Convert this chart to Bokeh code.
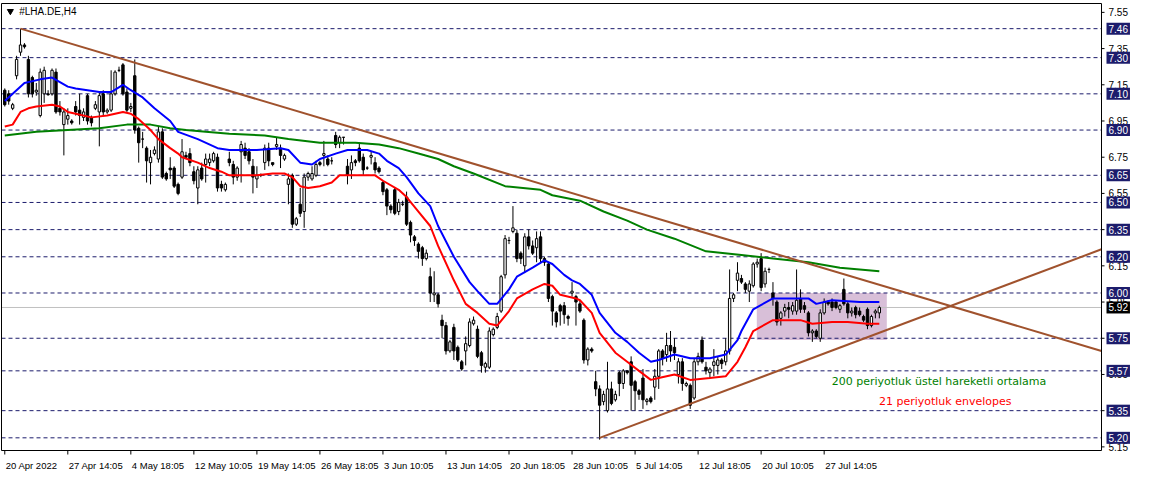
from bokeh.plotting import figure
from bokeh.models import Range1d, Label, ColumnDataSource
from bokeh.embed import file_html
from bokeh.resources import INLINE

# ------------------------------------------------------------------ data
symbol = "#LHA.DE,H4"

open_ = [7.12, 7.10, 7.02, 7.20, 7.33, 7.37, 7.29, 7.19, 7.11, 6.98,
         7.10, 7.10, 7.10, 7.22, 7.02, 6.93, 6.96, 6.95, 7.03, 7.01,
         6.97, 7.09, 6.97, 7.02, 7.00, 7.10, 7.00, 7.01, 7.10, 7.23,
         7.26, 7.11, 7.02, 7.20, 6.91, 6.85, 6.80, 6.72, 6.77, 6.74,
         6.89, 6.66, 6.69, 6.69, 6.60, 6.64, 6.76, 6.77, 6.67, 6.58,
         6.69, 6.71, 6.72, 6.73, 6.75, 6.60, 6.57, 6.74, 6.71, 6.64,
         6.78, 6.80, 6.78, 6.70, 6.63, 6.65, 6.72, 6.80, 6.72, 6.81,
         6.80, 6.74, 6.60, 6.65, 6.38, 6.49, 6.45, 6.64, 6.63, 6.65,
         6.72, 6.76, 6.74, 6.73, 6.87, 6.83, 6.86, 6.70, 6.68, 6.73,
         6.80, 6.75, 6.69, 6.75, 6.72, 6.69, 6.61, 6.57, 6.48, 6.57,
         6.45, 6.49, 6.53, 6.39, 6.31, 6.27, 6.25, 6.19, 6.09, 5.99,
         5.99, 5.85, 5.82, 5.68, 5.81, 5.70, 5.62, 5.68, 5.71, 5.83,
         5.80, 5.67, 5.59, 5.59, 5.77, 5.81, 5.90, 6.10, 6.29, 6.34,
         6.33, 6.22, 6.15, 6.31, 6.26, 6.25, 6.31, 6.19, 6.16, 5.98,
         5.89, 5.93, 5.93, 5.87, 6.00, 5.98, 5.94, 5.85, 5.63, 5.69,
         5.51, 5.47, 5.40, 5.35, 5.47, 5.41, 5.56, 5.50, 5.57, 5.62,
         5.51, 5.46, 5.53, 5.40, 5.42, 5.48, 5.54, 5.68, 5.66, 5.71,
         5.70, 5.55, 5.62, 5.49, 5.49, 5.42, 5.62, 5.74, 5.59, 5.56,
         5.60, 5.60, 5.63, 5.62, 5.68, 5.97, 6.07, 6.08, 6.05, 6.01,
         6.04, 6.16, 6.19, 6.05, 6.13, 6.00, 5.95, 5.86, 5.90, 5.92,
         5.90, 5.90, 5.97, 5.93, 5.89, 5.78, 5.79, 5.75, 5.89, 5.95,
         5.95, 5.95, 5.91, 6.02, 5.94, 5.89, 5.92, 5.90, 5.87, 5.91,
         5.82, 5.89, 5.89]
high = [7.13, 7.12, 7.05, 7.31, 7.46, 7.38, 7.31, 7.20, 7.16, 7.24,
        7.25, 7.12, 7.24, 7.24, 7.06, 7.02, 7.02, 6.96, 7.06, 7.10,
        7.02, 7.10, 6.98, 7.06, 7.11, 7.12, 7.02, 7.23, 7.23, 7.25,
        7.27, 7.13, 7.05, 7.29, 6.92, 6.89, 6.81, 6.79, 6.81, 6.92,
        6.91, 6.67, 6.75, 6.70, 6.61, 6.85, 6.78, 6.80, 6.70, 6.70,
        6.72, 6.77, 6.77, 6.78, 6.77, 6.62, 6.61, 6.78, 6.73, 6.70,
        6.84, 6.83, 6.80, 6.74, 6.70, 6.66, 6.82, 6.83, 6.72, 6.86,
        6.82, 6.77, 6.66, 6.66, 6.42, 6.58, 6.66, 6.67, 6.70, 6.73,
        6.73, 6.84, 6.76, 6.75, 6.89, 6.87, 6.86, 6.74, 6.76, 6.74,
        6.83, 6.77, 6.70, 6.78, 6.75, 6.70, 6.62, 6.58, 6.49, 6.58,
        6.52, 6.51, 6.56, 6.40, 6.32, 6.28, 6.26, 6.24, 6.14, 6.12,
        6.00, 5.88, 5.84, 5.74, 5.83, 5.71, 5.63, 5.76, 5.86, 5.87,
        5.82, 5.68, 5.62, 5.81, 5.81, 5.89, 6.10, 6.32, 6.31, 6.48,
        6.35, 6.23, 6.33, 6.35, 6.29, 6.34, 6.34, 6.20, 6.17, 5.99,
        5.90, 5.94, 5.95, 5.88, 6.06, 5.99, 5.96, 5.86, 5.70, 5.70,
        5.57, 5.49, 5.46, 5.62, 5.51, 5.46, 5.57, 5.58, 5.57, 5.65,
        5.52, 5.47, 5.58, 5.42, 5.43, 5.58, 5.69, 5.69, 5.78, 5.79,
        5.75, 5.64, 5.64, 5.51, 5.50, 5.64, 5.67, 5.76, 5.62, 5.59,
        5.69, 5.65, 5.64, 5.75, 6.13, 6.00, 6.17, 6.10, 6.06, 6.07,
        6.17, 6.19, 6.22, 6.14, 6.14, 6.06, 5.96, 5.90, 5.94, 5.95,
        5.95, 6.13, 6.02, 5.95, 5.90, 5.80, 5.80, 5.91, 5.97, 5.96,
        5.97, 5.96, 5.94, 6.08, 5.95, 5.92, 5.93, 5.92, 5.88, 5.92,
        5.88, 5.91, 5.93]
low = [7.03, 7.04, 7.01, 7.18, 7.31, 7.35, 7.08, 7.08, 7.09, 6.97,
       7.05, 7.09, 7.09, 6.99, 6.98, 6.76, 6.93, 6.93, 6.98, 6.93,
       6.95, 6.93, 6.92, 7.01, 6.81, 6.98, 6.99, 7.00, 7.09, 7.22,
       7.09, 7.00, 7.00, 6.88, 6.72, 6.80, 6.61, 6.60, 6.76, 6.72,
       6.63, 6.62, 6.63, 6.58, 6.54, 6.63, 6.74, 6.70, 6.60, 6.49,
       6.62, 6.61, 6.70, 6.72, 6.56, 6.56, 6.56, 6.70, 6.60, 6.62,
       6.61, 6.74, 6.71, 6.55, 6.58, 6.64, 6.68, 6.70, 6.70, 6.79,
       6.69, 6.73, 6.49, 6.36, 6.37, 6.42, 6.36, 6.62, 6.62, 6.64,
       6.70, 6.70, 6.70, 6.71, 6.80, 6.80, 6.82, 6.60, 6.63, 6.70,
       6.72, 6.65, 6.68, 6.71, 6.66, 6.66, 6.54, 6.43, 6.44, 6.43,
       6.43, 6.48, 6.37, 6.28, 6.26, 6.19, 6.15, 6.18, 5.95, 5.95,
       5.92, 5.75, 5.66, 5.67, 5.63, 5.62, 5.57, 5.60, 5.70, 5.82,
       5.64, 5.56, 5.56, 5.58, 5.76, 5.80, 5.89, 6.08, 6.27, 6.33,
       6.17, 6.16, 6.11, 6.24, 6.21, 6.17, 6.17, 6.15, 5.95, 5.82,
       5.81, 5.82, 5.83, 5.82, 5.98, 5.82, 5.89, 5.61, 5.60, 5.67,
       5.43, 5.19, 5.38, 5.34, 5.38, 5.40, 5.43, 5.47, 5.55, 5.35,
       5.35, 5.41, 5.36, 5.38, 5.39, 5.41, 5.47, 5.60, 5.62, 5.62,
       5.63, 5.50, 5.46, 5.48, 5.36, 5.41, 5.60, 5.61, 5.55, 5.53,
       5.54, 5.55, 5.58, 5.60, 5.66, 5.95, 6.01, 6.05, 6.00, 5.95,
       6.03, 6.14, 6.01, 6.03, 6.11, 5.93, 5.82, 5.82, 5.87, 5.86,
       5.88, 5.88, 5.89, 5.89, 5.76, 5.73, 5.75, 5.73, 5.88, 5.93,
       5.90, 5.91, 5.89, 5.93, 5.86, 5.87, 5.86, 5.87, 5.84, 5.80,
       5.81, 5.86, 5.86]
close = [7.04, 7.06, 7.04, 7.29, 7.37, 7.36, 7.10, 7.10, 7.12, 7.22,
         7.23, 7.095, 7.23, 7.00, 7.00, 7.00, 6.98, 6.94, 7.00, 6.98,
         7.00, 6.95, 6.94, 7.04, 7.09, 7.00, 7.01, 7.10, 7.22, 7.23,
         7.10, 7.01, 7.03, 6.90, 6.83, 6.85, 6.73, 6.75, 6.79, 6.89,
         6.64, 6.63, 6.68, 6.59, 6.55, 6.78, 6.75, 6.72, 6.62, 6.68,
         6.63, 6.74, 6.74, 6.77, 6.58, 6.58, 6.60, 6.72, 6.64, 6.69,
         6.82, 6.76, 6.73, 6.64, 6.65, 6.65, 6.80, 6.73, 6.71, 6.82,
         6.76, 6.76, 6.63, 6.38, 6.41, 6.44, 6.64, 6.66, 6.66, 6.71,
         6.71, 6.77, 6.71, 6.73, 6.82, 6.86, 6.86, 6.65, 6.72, 6.72,
         6.73, 6.68, 6.69, 6.76, 6.68, 6.67, 6.56, 6.48, 6.46, 6.44,
         6.50, 6.49, 6.38, 6.32, 6.29, 6.23, 6.19, 6.22, 6.00, 6.00,
         5.94, 5.82, 5.68, 5.73, 5.68, 5.63, 5.58, 5.72, 5.84, 5.85,
         5.65, 5.60, 5.61, 5.79, 5.80, 5.87, 6.09, 6.30, 6.29, 6.36,
         6.19, 6.19, 6.31, 6.26, 6.22, 6.30, 6.19, 6.17, 5.97, 5.90,
         5.84, 5.90, 5.88, 5.86, 6.01, 5.95, 5.90, 5.63, 5.69, 5.68,
         5.47, 5.38, 5.44, 5.47, 5.39, 5.44, 5.50, 5.57, 5.56, 5.49,
         5.46, 5.44, 5.41, 5.41, 5.40, 5.54, 5.68, 5.64, 5.71, 5.68,
         5.67, 5.62, 5.50, 5.50, 5.38, 5.62, 5.65, 5.62, 5.57, 5.58,
         5.62, 5.63, 5.61, 5.68, 5.97, 5.99, 6.11, 6.06, 6.02, 6.05,
         6.16, 6.17, 6.03, 6.12, 6.13, 5.97, 5.84, 5.89, 5.92, 5.91,
         5.93, 5.96, 5.91, 5.91, 5.78, 5.79, 5.76, 5.89, 5.95, 5.94,
         5.92, 5.92, 5.93, 5.94, 5.89, 5.90, 5.88, 5.88, 5.85, 5.82,
         5.87, 5.90, 5.92]

# upper envelope (blue), sampled at bar indices
env_up_bar = [0, 5, 9, 12, 16, 18, 24, 27, 30, 32, 35, 38, 42, 44, 49, 54, 57, 64, 70, 72,
              75, 78, 80, 84, 87, 92, 95, 97, 100, 102, 105, 108, 110, 114, 118, 120, 123, 125, 128, 130,
              134, 137, 139, 142, 144, 146, 149, 151, 155, 158, 161, 164, 166, 170, 174, 179, 183, 186, 187, 190,
              195, 204, 206, 210, 217, 222]
env_up_val = [7.06, 7.16, 7.18, 7.19, 7.14, 7.13, 7.11, 7.11, 7.15, 7.12, 7.08, 7.02, 6.95, 6.89, 6.85, 6.80, 6.79, 6.79, 6.80, 6.79,
              6.72, 6.71, 6.74, 6.77, 6.79, 6.79, 6.77, 6.73, 6.69, 6.64, 6.55, 6.48, 6.37, 6.20, 6.06, 6.01, 5.94, 5.94, 6.02, 6.09,
              6.14, 6.18, 6.16, 6.10, 6.07, 6.05, 5.99, 5.89, 5.78, 5.73, 5.67, 5.62, 5.63, 5.66, 5.64, 5.64, 5.66, 5.74, 5.79, 5.91,
              5.97, 5.97, 5.94, 5.96, 5.95, 5.95]
# lower envelope (red)
env_lo_bar = [0, 2, 4, 6, 8, 12, 14, 16, 18, 22, 26, 28, 30, 32, 34, 37, 39, 42, 44, 45,
              49, 52, 55, 57, 60, 64, 68, 71, 73, 75, 77, 80, 83, 85, 89, 94, 96, 100, 102, 105,
              108, 110, 114, 117, 120, 123, 125, 128, 130, 134, 137, 139, 141, 145, 146, 149, 151, 155, 158, 161,
              164, 166, 170, 174, 179, 183, 186, 188, 190, 195, 202, 205, 210, 214, 219, 222]
env_lo_val = [6.92, 6.93, 7.00, 7.02, 7.03, 7.04, 7.03, 7.00, 6.99, 6.97, 6.98, 6.99, 7.00, 6.99, 6.96, 6.90, 6.85, 6.80, 6.77, 6.75,
              6.72, 6.69, 6.67, 6.65, 6.65, 6.65, 6.66, 6.66, 6.64, 6.59, 6.58, 6.59, 6.61, 6.65, 6.65, 6.65, 6.62, 6.57, 6.53, 6.45,
              6.37, 6.26, 6.07, 5.94, 5.89, 5.83, 5.82, 5.90, 5.97, 6.02, 6.05, 6.04, 5.99, 5.97, 5.96, 5.89, 5.78, 5.67, 5.62, 5.57,
              5.52, 5.53, 5.55, 5.52, 5.53, 5.54, 5.62, 5.70, 5.79, 5.85, 5.85, 5.83, 5.84, 5.84, 5.83, 5.83]
# 200 EMA (green)
ema_bar = [0, 8, 16, 24, 31, 37, 42, 46, 51, 57, 66, 72, 80, 89, 95, 100, 105, 110, 114, 119,
           127, 136, 139, 146, 152, 158, 163, 170, 178, 187, 195, 204, 212, 222]
ema_val = [6.87, 6.89, 6.90, 6.91, 6.93, 6.93, 6.91, 6.90, 6.89, 6.88, 6.87, 6.85, 6.83, 6.83, 6.82, 6.80, 6.77, 6.74, 6.70, 6.66,
           6.59, 6.57, 6.54, 6.51, 6.45, 6.40, 6.35, 6.30, 6.23, 6.21, 6.19, 6.17, 6.14, 6.12]

# trend lines: two anchors each, extended to the right edge
down_bar = [4, 192]
down_val = [7.46, 6.24]
up_bar = [151, 220]
up_val = [5.20, 5.764]

# consolidation box
box_bar = [190.9, 223.9]
box_val = [5.74, 6.00]

date_bars = [0, 16, 32, 48, 64, 80, 96, 112, 128, 144, 160, 176, 192, 208]
date_labels = ["20 Apr 2022", "27 Apr 14:05", "4 May 18:05", "12 May 10:05", "19 May 14:05",
               "26 May 18:05", "3 Jun 10:05", "13 Jun 14:05", "20 Jun 18:05", "28 Jun 10:05",
               "5 Jul 14:05", "12 Jul 18:05", "20 Jul 10:05", "27 Jul 14:05"]
price_ticks = [5.15, 5.35, 5.55, 5.75, 5.95, 6.15, 6.35, 6.55, 6.75, 6.95, 7.15, 7.35, 7.55]
level_lines = [7.46, 7.30, 7.10, 6.90, 6.65, 6.50, 6.35, 6.20, 6.00, 5.75, 5.57, 5.35, 5.20]
bid_price = 5.92

note_ema = "200 periyotluk üstel hareketli ortalama"
note_env = "21 periyotluk envelopes"

# ------------------------------------------------------------------ layout
W, H = 1142, 474                 # canvas
PL, PR, PT, PB = 1, 1101, 3, 450  # chart area inside the canvas (px)
X0, X1 = -0.83, 278.4            # bars shown in the chart area
Y0, Y1 = 5.13, 7.599             # prices shown in the chart area
KX = (X1 - X0) / (PR - PL)       # data units per px
KY = (Y1 - Y0) / (PB - PT)
XS, XE = X0 - PL * KX, X0 + (W - PL) * KX
YE = Y1 + PT * KY
YS = YE - H * KY

NAVY = "#1c1c6c"
BROWN = "#A0522D"
AX_FONT = "Liberation Sans"


def fx(px):  # chart-area px (reference frame 1117 wide) -> bar
    return X0 + px * (X1 - X0) / 1117.0


def fy(py):  # chart-area px (reference frame 461 high) -> price
    return Y1 - py * (Y1 - Y0) / 461.0


p = figure(width=W, height=H, x_range=Range1d(XS, XE), y_range=Range1d(YS, YE),
           output_backend="svg", toolbar_location=None,
           x_axis_location=None, y_axis_location=None,
           min_border=0, min_border_left=0, min_border_right=0,
           min_border_top=0, min_border_bottom=0)
p.grid.visible = False
p.outline_line_color = None
p.background_fill_color = "white"
p.border_fill_color = "white"

# consolidation box and horizontal levels
p.quad(left=[box_bar[0]], right=[box_bar[1]], bottom=[box_val[0]], top=[box_val[1]],
       fill_color="#D8BFD8", line_color=None)
p.segment(x0=[X0] * len(level_lines), y0=level_lines, x1=[X1] * len(level_lines), y1=level_lines,
          line_color=NAVY, line_width=1, line_dash="4 3")
p.segment(x0=[X0], y0=[bid_price], x1=[X1], y1=[bid_price], line_color="#C0C0C0", line_width=1)

# candles
idx = list(range(len(close)))
up_src = dict(x=[], top=[], bottom=[])
dn_src = dict(x=[], top=[], bottom=[])
for i in idx:
    o, c = open_[i], close[i]
    tgt = up_src if c >= o else dn_src
    tgt["x"].append(i)
    tgt["top"].append(max(o, c))
    tgt["bottom"].append(min(o, c))
p.segment(x0=idx, y0=low, x1=idx, y1=high, line_color="black", line_width=1)
p.vbar(x="x", top="top", bottom="bottom", width=0.6, source=ColumnDataSource(up_src),
       fill_color="white", line_color="black", line_width=1)
p.vbar(x="x", top="top", bottom="bottom", width=0.6, source=ColumnDataSource(dn_src),
       fill_color="black", line_color="black", line_width=1)

# indicators
p.line(ema_bar, ema_val, line_color="#008000", line_width=2)
p.line(env_up_bar, env_up_val, line_color="#0000FF", line_width=2)
p.line(env_lo_bar, env_lo_val, line_color="#FF0000", line_width=2)


def extend(bars, vals):
    slope = (vals[1] - vals[0]) / (bars[1] - bars[0])
    return [bars[0], X1], [vals[0], vals[0] + slope * (X1 - bars[0])]


dx, dy = extend(down_bar, down_val)
ux, uy = extend(up_bar, up_val)
p.line(dx, dy, line_color=BROWN, line_width=2)
p.line(ux, uy, line_color=BROWN, line_width=2)

# chart frame
p.quad(left=[X0], right=[X1], bottom=[Y0], top=[Y1], fill_color=None, line_color="black",
       line_width=1)

# right price scale
p.segment(x0=[X1] * len(price_ticks), y0=price_ticks, x1=[X1 + 3 * KX] * len(price_ticks),
          y1=price_ticks, line_color="black", line_width=1)
for t in price_ticks:
    p.add_layout(Label(x=X1 + 7 * KX, y=t, text=f"{t:.2f}", text_align="left",
                       text_baseline="middle", text_font=AX_FONT, text_font_size="10px",
                       text_color="black"))
for v in level_lines:
    p.add_layout(Label(x=X1 + 5 * KX, y=v, text=f"{v:.2f}", text_align="left",
                       text_baseline="middle", text_font=AX_FONT, text_font_size="10px",
                       text_color="white", background_fill_color=NAVY, padding=2))
p.add_layout(Label(x=X1 + 5 * KX, y=bid_price, text=f"{bid_price:.2f}", text_align="left",
                   text_baseline="middle", text_font=AX_FONT, text_font_size="10px",
                   text_color="white", background_fill_color="black", padding=2))

# bottom time scale
p.segment(x0=date_bars, y0=[Y0] * len(date_bars), x1=date_bars,
          y1=[Y0 - 4 * KY] * len(date_bars), line_color="black", line_width=1)
for b, s in zip(date_bars, date_labels):
    p.add_layout(Label(x=b + 1 * KX, y=Y0 - 9 * KY, text=s, text_align="left",
                       text_baseline="top", text_font=AX_FONT, text_font_size="9.5px",
                       text_color="black"))

# title
p.scatter([fx(9)], [fy(8)], marker="inverted_triangle", size=6, color="black")
p.add_layout(Label(x=fx(18), y=fy(8), text=symbol, text_align="left", text_baseline="middle",
                   text_font=AX_FONT, text_font_size="10px", text_color="black"))

# notes
p.add_layout(Label(x=fx(843), y=fy(390), text=note_ema, text_align="left", text_baseline="middle",
                   text_font="DejaVu Sans", text_font_size="11px", text_color="#008000"))
p.add_layout(Label(x=fx(891), y=fy(410), text=note_env, text_align="left", text_baseline="middle",
                   text_font="DejaVu Sans", text_font_size="11px", text_color="#FF0000"))

open("out.html", "w").write(file_html(p, INLINE))
